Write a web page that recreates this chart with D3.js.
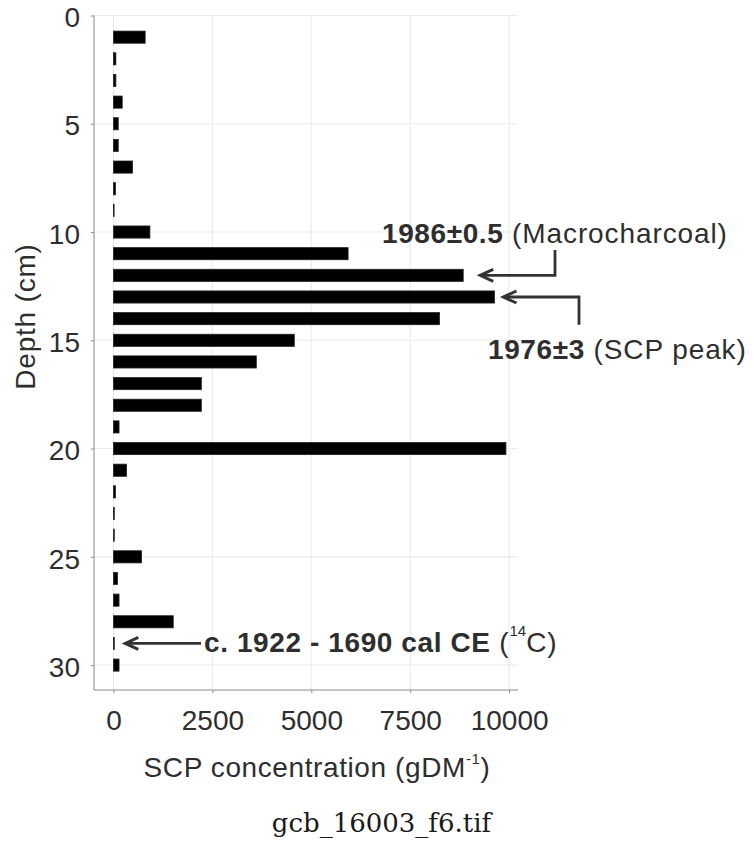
<!DOCTYPE html>
<html>
<head>
<meta charset="utf-8">
<script src="https://cdn.jsdelivr.net/npm/d3@7"></script>
<style>
  html, body { margin: 0; padding: 0; background: #fff; }
  svg { display: block; font-family: "Liberation Sans", Arial, sans-serif; }
</style>
</head>
<body>
<script>
// Sample depths (cm) and SCP concentration (gDM^-1) per 1 cm slice
const depths = [1, 2, 3, 4, 5, 6, 7, 8, 9, 10, 11, 12, 13, 14, 15, 16, 17, 18, 19, 20, 21, 22, 23, 24, 25, 26, 27, 28, 29, 30];
const scpValues = [800, 60, 60, 220, 120, 120, 480, 50, 10, 920, 5930, 8840, 9630, 8240, 4570, 3610, 2220, 2220, 140, 9920, 330, 50, 20, 20, 710, 100, 140, 1510, 20, 140];

// Axis ticks
const depthTicks = [0, 5, 10, 15, 20, 25, 30];
const scpTicks = [0, 2500, 5000, 7500, 10000];

// Dating annotations: the depth each arrow points at
const annoDepths = [12, 13, 29];
const annoBold = ["1986±0.5", "1976±3", "c. 1922 - 1690 cal CE"];
const annoPlain = [" (Macrocharcoal)", " (SCP peak)", " ("];

const W = 754, H = 850;
const panel = { left: 94, right: 518, top: 15.5, bottom: 690 };

const svg = d3.select("body").append("svg")
  .attr("width", W).attr("height", H);

const x = d3.scaleLinear().domain([-493, 10225]).range([panel.left, panel.right]);
const y = d3.scaleLinear().domain([0, 31.15]).range([panel.top, panel.bottom]);

const textCol = "#2e2e2e";
const gridCol = "#ebebeb";
const axisCol = "#8a8a8a";

// Grid
const grid = svg.append("g");
grid.selectAll("line.h").data(depthTicks).join("line")
  .attr("x1", panel.left).attr("x2", panel.right)
  .attr("y1", d => y(d)).attr("y2", d => y(d))
  .attr("stroke", gridCol).attr("stroke-width", 1.1);
grid.selectAll("line.v").data(scpTicks).join("line")
  .attr("y1", panel.top).attr("y2", panel.bottom)
  .attr("x1", d => x(d)).attr("x2", d => x(d))
  .attr("stroke", gridCol).attr("stroke-width", 1.1);

// Bars
const barHalf = 0.28;
const rows = depths.map((d, i) => ({ depth: d, value: scpValues[i] }));
svg.append("g").selectAll("rect").data(rows).join("rect")
  .attr("x", x(0))
  .attr("y", d => y(d.depth - barHalf))
  .attr("width", d => Math.max(0.6, x(d.value) - x(0)))
  .attr("height", y(barHalf * 2) - y(0))
  .attr("fill", "#000")
  .attr("stroke", "#222").attr("stroke-width", 0.8);

// Y axis
const yAxis = d3.axisLeft(y).tickValues(depthTicks).tickSize(3).tickPadding(11);
const gy = svg.append("g").attr("transform", `translate(${panel.left},0)`).call(yAxis);
gy.select(".domain").attr("stroke", axisCol).attr("d", `M0,${panel.top}V${panel.bottom}`);
gy.selectAll(".tick line").attr("stroke", axisCol);
gy.selectAll(".tick text")
  .attr("fill", textCol).attr("font-size", 28)
  .attr("font-family", "Liberation Sans, Arial, sans-serif")
  .attr("x", -14).attr("dy", "0.4em");

// X axis
const xAxis = d3.axisBottom(x).tickValues(scpTicks).tickSize(3).tickPadding(6)
  .tickFormat(d3.format("d"));
const gx = svg.append("g").attr("transform", `translate(0,${panel.bottom})`).call(xAxis);
gx.select(".domain").attr("stroke", axisCol).attr("d", `M${panel.left},0H${panel.right}`);
gx.selectAll(".tick line").attr("stroke", axisCol);
gx.selectAll(".tick text")
  .attr("fill", textCol).attr("font-size", 28)
  .attr("font-family", "Liberation Sans, Arial, sans-serif")
  .attr("y", 40).attr("dy", 0);

// Axis titles
const xt = svg.append("text")
  .attr("x", 317).attr("y", 777)
  .attr("text-anchor", "middle")
  .attr("font-size", 28).attr("fill", textCol)
  .attr("letter-spacing", 0.6);
xt.append("tspan").text("SCP concentration (gDM");
xt.append("tspan").attr("dy", -13).attr("font-size", 15).text("-1");
xt.append("tspan").attr("dy", 13).text(")");

svg.append("text")
  .attr("transform", "translate(35,316.5) rotate(-90)")
  .attr("text-anchor", "middle")
  .attr("font-size", 28).attr("fill", textCol)
  .attr("letter-spacing", 0.8)
  .text("Depth (cm)");

// Annotation arrows (elbow connectors ending in a chevron head)
const arrowCol = "#333";
function valueAt(depth) { return scpValues[depths.indexOf(depth)]; }

function arrow(points) {
  const line = d3.line();
  svg.append("path").attr("d", line(points))
    .attr("fill", "none").attr("stroke", arrowCol)
    .attr("stroke-width", 2.8).attr("stroke-linejoin", "miter");
  const [tx, ty] = points[points.length - 1];
  svg.append("path")
    .attr("d", line([[tx + 13, ty - 6], [tx, ty], [tx + 13, ty + 6]]))
    .attr("fill", "none").attr("stroke", arrowCol)
    .attr("stroke-width", 3).attr("stroke-linejoin", "miter");
}

// 1986±0.5 — points at 12 cm from above-right
{
  const d = annoDepths[0];
  const tip = x(valueAt(d)) + 17, yy = y(d);
  arrow([[555, y(10.83)], [555, yy], [tip, yy]]);
}
// 1976±3 — points at 13 cm from below-right
{
  const d = annoDepths[1];
  const tip = x(valueAt(d)) + 9, yy = y(d);
  arrow([[579, y(14.28)], [579, yy], [tip, yy]]);
}
// 14C date — points at 29 cm
{
  const d = annoDepths[2];
  const tip = x(valueAt(d)) + 11, yy = y(d);
  arrow([[201, yy], [tip, yy]]);
}

function label(xPos, yPos, bold, plain) {
  const t = svg.append("text").attr("x", xPos).attr("y", yPos)
    .attr("font-size", 28).attr("fill", textCol);
  t.append("tspan").attr("font-weight", "bold").attr("letter-spacing", 0.6).text(bold);
  t.append("tspan").attr("letter-spacing", 0.9).text(plain);
  return t;
}

label(382, 243, annoBold[0], annoPlain[0]);
label(488, 358.5, annoBold[1], annoPlain[1]);
const t3 = label(204, 652, annoBold[2], annoPlain[2]);
t3.append("tspan").attr("dy", -16).attr("font-size", 15).text("14");
t3.append("tspan").attr("dy", 16).attr("letter-spacing", 0.9).text("C)");

// Figure file name
svg.append("text")
  .attr("x", 381.5).attr("y", 832)
  .attr("text-anchor", "middle")
  .attr("font-family", "DejaVu Serif, Liberation Serif, serif")
  .attr("font-size", 26).attr("fill", "#1a1a1a")
  .text("gcb_16003_f6.tif");
</script>
</body>
</html>
